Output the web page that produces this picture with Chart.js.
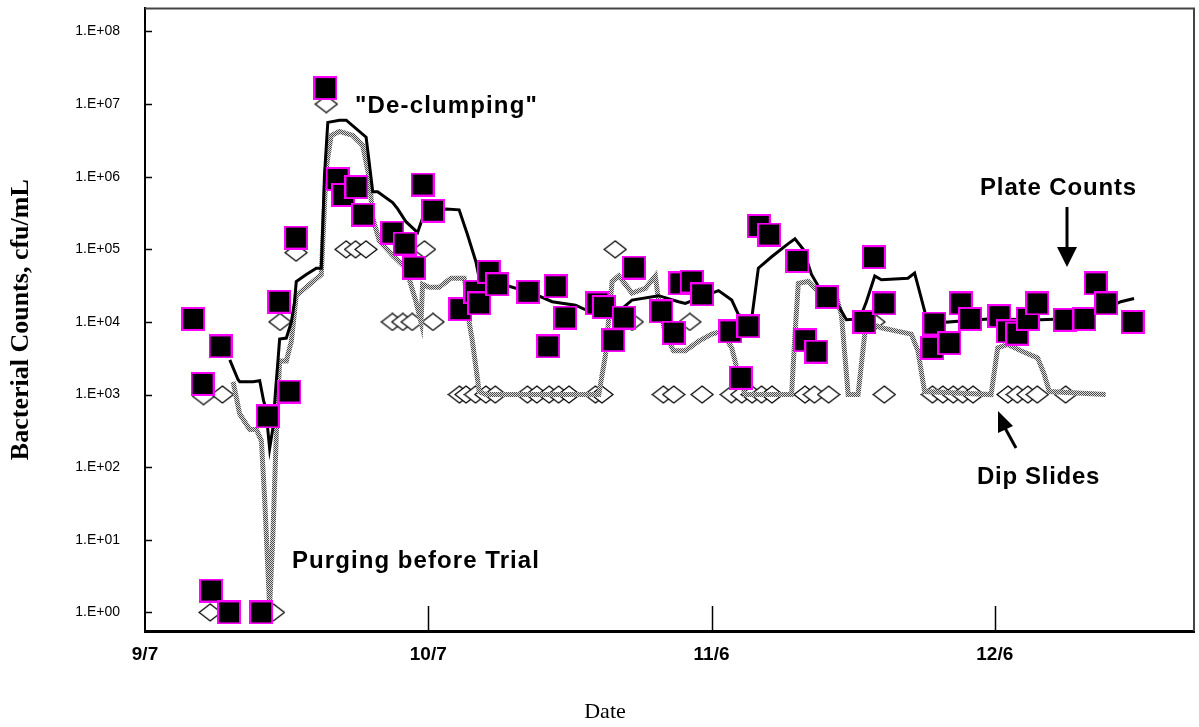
<!DOCTYPE html>
<html>
<head>
<meta charset="utf-8">
<script src="https://cdn.jsdelivr.net/npm/chart.js@4.4.1/dist/chart.umd.min.js"></script>
<style>
  body { margin: 0; background: #fff; }
  #wrap { width: 1199px; height: 727px; position: relative; }
</style>
</head>
<body>
<div id="wrap"><canvas id="countsChart"></canvas></div>
<script>
// x values are days counted from 9/7
const xTickDays = [0, 30, 60, 90];
const xTickLabels = ['9/7', '10/7', '11/6', '12/6'];
const yTickValues = [1, 10, 100, 1e3, 1e4, 1e5, 1e6, 1e7, 1e8];
const yTickLabels = ['1.E+00', '1.E+01', '1.E+02', '1.E+03', '1.E+04', '1.E+05', '1.E+06', '1.E+07', '1.E+08'];

// plate counts (squares)
const plateDays = [5.1, 6.1, 7.0, 8.0, 8.9, 12.3, 13.0, 14.2, 15.3, 16.0, 19.1, 20.4, 21.0, 22.4, 23.1,
  26.2, 27.5, 28.5, 29.4, 30.5, 33.4, 35.0, 35.4, 36.4, 37.3, 40.6, 42.7, 43.5, 44.5, 47.9, 48.6,
  49.6, 50.7, 51.8, 54.7, 56.0, 56.7, 57.9, 59.0, 62.0, 63.1, 63.9, 65.0, 66.1, 69.1, 69.9, 71.1,
  72.2, 76.2, 77.2, 78.3, 83.4, 83.6, 85.2, 86.4, 87.4, 90.5, 91.4, 92.4, 93.5, 94.5, 97.4, 99.5,
  100.7, 101.8, 104.6];
const plateCounts = [11000, 1400, 2, 4600, 1, 1, 500, 19000, 1100, 145000, 1.66e7, 9.3e5, 5.6e5, 7.2e5, 3.0e5,
  1.7e5, 1.2e5, 5.6e4, 7.8e5, 3.4e5, 1.5e4, 2.6e4, 1.8e4, 4.9e4, 3.3e4, 2.6e4, 4600, 3.1e4, 1.15e4, 1.8e4, 1.6e4,
  5600, 1.15e4, 5.6e4, 1.4e4, 7100, 3.4e4, 3.6e4, 2.4e4, 7400, 1700, 8700, 2.1e5, 1.6e5, 6.9e4, 5600, 3900,
  2.2e4, 1.0e4, 7.8e4, 1.8e4, 4400, 9500, 5100, 1.8e4, 1.1e4, 1.2e4, 7400, 6900, 1.1e4, 1.8e4, 1.07e4, 1.1e4,
  3.4e4, 1.8e4, 1.0e4];

// dip slides (diamonds)
const dipDays = [6.2, 8.2, 6.9, 13.6, 14.3, 16.0, 19.2, 21.3, 22.3, 23.4, 29.6, 26.2, 27.3, 28.3, 30.5,
  33.3, 34.0, 35.0, 36.1, 37.1, 40.5, 41.5, 42.8, 43.8, 44.9, 47.7, 48.4, 49.8, 51.6, 57.7,
  54.9, 56.0, 59.0, 62.1, 63.2, 64.3, 65.3, 66.4, 69.9, 70.9, 72.4, 77.2, 78.3,
  83.4, 84.5, 85.6, 86.6, 87.7, 91.4, 92.4, 93.5, 94.5, 97.5];
const dipCounts = [950, 1000, 1, 1, 1e4, 9e4, 1e7, 1e5, 1e5, 1e5, 1e5, 1e4, 1e4, 1e4, 1e4,
  1000, 1000, 1000, 1000, 1000, 1000, 1000, 1000, 1000, 1000, 1000, 1000, 1e5, 1e4, 1e4,
  1000, 1000, 1000, 1000, 1000, 1000, 1000, 1000, 1000, 1000, 1000, 1e4, 1000,
  1000, 1000, 1000, 1000, 1000, 1000, 1000, 1000, 1000, 1000];

// trend of plate counts (solid black line)
const plateTrendDays = [8.98, 9.86, 10.03, 11.44, 12.15, 12.57, 12.78, 13.2, 13.55, 13.84, 14.08, 14.26, 14.97,
  15.5, 15.84, 16.02, 17.08, 18.14, 18.67, 19.01, 19.36, 20.6, 21.31, 23.42, 24.12, 24.64, 26.23, 26.76,
  27.64, 28.87, 29.4, 30.1, 31.87, 33.27, 34.15, 35.04, 35.39, 36.44, 38.21, 41.02, 43.13, 45.6, 47.01,
  50.18, 51.58, 54.4, 56.51, 57.22, 59.33, 60.74, 62.14, 62.85, 64.25, 64.96, 66.37, 68.13, 68.84, 69.71,
  70.59, 71.65, 73.41, 74.29, 75.7, 76.4, 77.29, 77.99, 80.8, 81.51, 82.04, 82.92, 89.26, 94.89, 97.0,
  100.53, 103.34, 104.75];
const plateTrend = [3000, 1600, 1500, 1500, 1550, 810, 660, 180, 350, 1200, 2900, 5800, 6000,
  10000, 19000, 36000, 45000, 55000, 55000, 1.05e6, 5.6e6, 6.0e6, 6.0e6, 3.5e6, 6.2e5, 6.2e5, 4.4e5, 3.6e5,
  2.4e5, 1.7e5, 2.7e5, 3.3e5, 3.6e5, 3.5e5, 1.6e5, 6.8e4, 4.0e4, 3.2e4, 3.2e4, 2.5e4, 1.9e4, 1.7e4, 1.4e4,
  1.4e4, 2.0e4, 2.3e4, 1.9e4, 1.8e4, 2.3e4, 2.7e4, 2.0e4, 1.26e4, 1.1e4, 5.5e4, 7.9e4, 1.2e5, 1.4e5, 1.0e5,
  4.5e4, 2.6e4, 1.7e4, 1.07e4, 1.1e4, 1.9e4, 4.3e4, 3.8e4, 4.0e4, 4.7e4, 2.6e4, 9500, 1.1e4, 1.07e4, 1.1e4,
  1.26e4, 1.9e4, 2.1e4];

// trend of dip slides (grey dotted line)
const dipTrendDays = [9.33, 10.03, 11.09, 11.8, 12.33, 12.68, 13.2, 13.55, 13.91, 14.26, 14.97, 15.5, 16.02,
  17.78, 18.67, 19.19, 19.72, 20.6, 22.0, 23.06, 23.77, 24.12, 24.82, 26.23, 27.64, 28.7, 29.23, 29.4,
  30.1, 31.16, 32.4, 33.8, 34.15, 34.33, 34.68, 35.39, 36.09, 48.06, 48.77, 49.47, 50.18, 51.58, 52.99,
  54.05, 54.4, 55.11, 55.98, 57.22, 58.61, 60.03, 61.09, 62.14, 62.85, 63.56, 68.48, 68.84, 69.19, 70.24,
  71.3, 73.06, 73.76, 74.47, 75.52, 76.23, 76.93, 77.99, 79.75, 81.16, 81.86, 82.57, 89.61, 90.31, 91.37,
  92.77, 94.54, 95.24, 95.77, 101.75];
const dipTrend = [1500, 540, 330, 330, 230, 35, 1.2, 12, 290, 2900, 2900, 5400, 23000,
  36000, 45000, 1.3e6, 3.7e6, 4.2e6, 3.7e6, 2.7e6, 9.3e5, 2.7e5, 1.3e5, 8.3e4, 5.5e4, 1.9e4, 1.0e4, 3.3e4,
  3.0e4, 3.0e4, 4.0e4, 4.0e4, 2.3e4, 1.0e4, 5400, 1100, 1000, 1000, 3500, 3.6e4, 4.3e4, 2.5e4, 2.9e4,
  4.3e4, 1.9e4, 6800, 4000, 4000, 5400, 6800, 7400, 4400, 1900, 1000, 1000, 6800, 3.4e4, 3.6e4,
  2.6e4, 2.6e4, 1.26e4, 1000, 1000, 6800, 9500, 8300, 7400, 6800, 4000, 1100, 1000, 4400, 4900,
  4000, 3200, 1900, 1100, 1000];

function toPoints(xs, ys) {
    return xs.map((x, i) => ({ x: x, y: ys[i] }));
}

// marker images
function makeSquare(side, border) {
    const c = document.createElement('canvas');
    c.width = side; c.height = side;
    const g = c.getContext('2d');
    g.fillStyle = '#ff00ff';
    g.fillRect(0, 0, side, side);
    g.fillStyle = '#000';
    g.fillRect(border, border, side - 2 * border, side - 2 * border);
    return c;
}

function makeDiamond(w, h) {
    const c = document.createElement('canvas');
    c.width = w + 2; c.height = h + 2;
    const g = c.getContext('2d');
    g.beginPath();
    g.moveTo(w / 2 + 1, 1);
    g.lineTo(w + 1, h / 2 + 1);
    g.lineTo(w / 2 + 1, h + 1);
    g.lineTo(1, h / 2 + 1);
    g.closePath();
    g.fillStyle = '#fff';
    g.fill();
    g.strokeStyle = '#000';
    g.lineWidth = 1.3;
    g.stroke();
    return c;
}

// checkered grey for the dip slide trend
function makeHatch() {
    const c = document.createElement('canvas');
    c.width = 2; c.height = 2;
    const g = c.getContext('2d');
    g.fillStyle = '#dcdcdc';
    g.fillRect(0, 0, 2, 2);
    g.fillStyle = '#4a4a4a';
    g.fillRect(0, 0, 1, 1);
    g.fillRect(1, 1, 1, 1);
    return g.createPattern(c, 'repeat');
}

function drawLabel(ctx, text, left, baseline, width, size) {
    ctx.save();
    ctx.font = 'bold ' + size + 'px "Liberation Sans", Arial, sans-serif';
    ctx.fillStyle = '#000';
    ctx.textAlign = 'left';
    ctx.textBaseline = 'alphabetic';
    const w = ctx.measureText(text).width;
    if (w < width) {
        ctx.letterSpacing = ((width - w) / text.length) + 'px';
        ctx.fillText(text, left, baseline);
    } else {
        ctx.translate(left, baseline);
        ctx.scale(width / w, 1);
        ctx.fillText(text, 0, 0);
    }
    ctx.restore();
}

const annotations = {
    id: 'annotations',
    beforeDatasetsDraw(chart) {
        const ctx = chart.ctx;
        const area = chart.chartArea;
        const x = chart.scales.x, y = chart.scales.y;
        ctx.save();
        ctx.strokeStyle = '#000';
        ctx.lineWidth = 1.5;
        // inner tick marks
        xTickDays.slice(1).forEach(d => {
            const px = Math.round(x.getPixelForValue(d)) + 0.5;
            ctx.beginPath();
            ctx.moveTo(px, area.bottom);
            ctx.lineTo(px, area.bottom - 25);
            ctx.stroke();
        });
        yTickValues.forEach(v => {
            const py = Math.round(y.getPixelForValue(v)) + 0.5;
            ctx.beginPath();
            ctx.moveTo(area.left, py);
            ctx.lineTo(area.left + 7, py);
            ctx.stroke();
        });
        // top and right frame
        ctx.strokeStyle = '#444';
        ctx.lineWidth = 2;
        ctx.beginPath();
        ctx.moveTo(area.left, area.top);
        ctx.lineTo(area.right, area.top);
        ctx.lineTo(area.right, area.bottom);
        ctx.stroke();
        ctx.restore();
    },
    afterDraw(chart) {
        const ctx = chart.ctx;
        drawLabel(ctx, '"De-clumping"', 355, 113, 183, 24);
        drawLabel(ctx, 'Plate Counts', 980, 195, 157, 24);
        drawLabel(ctx, 'Purging before Trial', 292, 568, 248, 24);
        drawLabel(ctx, 'Dip Slides', 977, 484, 123, 24);

        ctx.save();
        ctx.fillStyle = '#000';
        ctx.strokeStyle = '#000';
        // arrow to plate counts
        ctx.lineWidth = 3;
        ctx.beginPath();
        ctx.moveTo(1067, 207);
        ctx.lineTo(1067, 250);
        ctx.stroke();
        ctx.beginPath();
        ctx.moveTo(1057, 247);
        ctx.lineTo(1077, 247);
        ctx.lineTo(1067, 267);
        ctx.closePath();
        ctx.fill();
        // arrow to dip slides
        ctx.beginPath();
        ctx.moveTo(1016, 448);
        ctx.lineTo(1005, 428);
        ctx.stroke();
        ctx.beginPath();
        ctx.moveTo(998, 411);
        ctx.lineTo(1013, 426);
        ctx.lineTo(998, 433);
        ctx.closePath();
        ctx.fill();

        ctx.font = '22px "Liberation Serif", "Times New Roman", serif';
        ctx.textAlign = 'center';
        ctx.textBaseline = 'middle';
        ctx.fillText('Date', 605, 712);
        ctx.restore();
    }
};

const hatch = makeHatch();

const data = {
    datasets: [
        {
            label: 'Plate Counts',
            data: toPoints(plateDays, plateCounts),
            pointStyle: makeSquare(24, 2),
            order: 0
        },
        {
            label: 'Plate Counts trend',
            data: toPoints(plateTrendDays, plateTrend),
            showLine: true,
            borderColor: '#000',
            borderWidth: 3,
            pointRadius: 0,
            tension: 0,
            order: 1
        },
        {
            label: 'Dip Slides trend',
            data: toPoints(dipTrendDays, dipTrend),
            showLine: true,
            borderColor: hatch,
            borderWidth: 5,
            pointRadius: 0,
            tension: 0,
            order: 2
        },
        {
            label: 'Dip Slides',
            data: toPoints(dipDays, dipCounts),
            pointStyle: makeDiamond(22, 17),
            order: 3
        }
    ]
};

const config = {
    type: 'scatter',
    data: data,
    options: {
        responsive: true,
        maintainAspectRatio: false,
        animation: false,
        layout: { padding: { top: 6, right: 0, left: 0, bottom: 0 } },
        plugins: {
            legend: { display: false },
            tooltip: { enabled: false }
        },
        scales: {
            x: {
                type: 'linear',
                min: 0,
                max: 111.1,
                grid: { display: false, drawTicks: true, tickLength: 12 },
                border: { color: '#000', width: 3 },
                afterBuildTicks: axis => { axis.ticks = xTickDays.map(v => ({ value: v })); },
                afterFit: axis => { axis.height = 96; },
                ticks: {
                    padding: 0,
                    color: '#000',
                    font: { family: '"Liberation Sans", Arial, sans-serif', weight: 'bold', size: 19 },
                    callback: (value) => xTickLabels[xTickDays.indexOf(value)]
                }
            },
            y: {
                type: 'logarithmic',
                min: 0.554,
                max: 2.08e8,
                bounds: 'data',
                grid: { display: false, drawTicks: true, tickLength: 25 },
                border: { color: '#000', width: 2 },
                afterBuildTicks: axis => { axis.ticks = yTickValues.map(v => ({ value: v })); },
                afterFit: axis => { axis.width = 145; },
                ticks: {
                    padding: 0,
                    color: '#000',
                    font: { family: '"Liberation Sans", Arial, sans-serif', size: 14 },
                    callback: (value) => yTickLabels[yTickValues.indexOf(value)]
                },
                title: {
                    display: true,
                    text: 'Bacterial Counts, cfu/mL',
                    color: '#000',
                    padding: { top: 6, bottom: 0 },
                    font: { family: '"Liberation Serif", "Times New Roman", serif', weight: 'bold', size: 26 }
                }
            }
        }
    },
    plugins: [annotations]
};

new Chart(document.getElementById('countsChart').getContext('2d'), config);
</script>
</body>
</html>
